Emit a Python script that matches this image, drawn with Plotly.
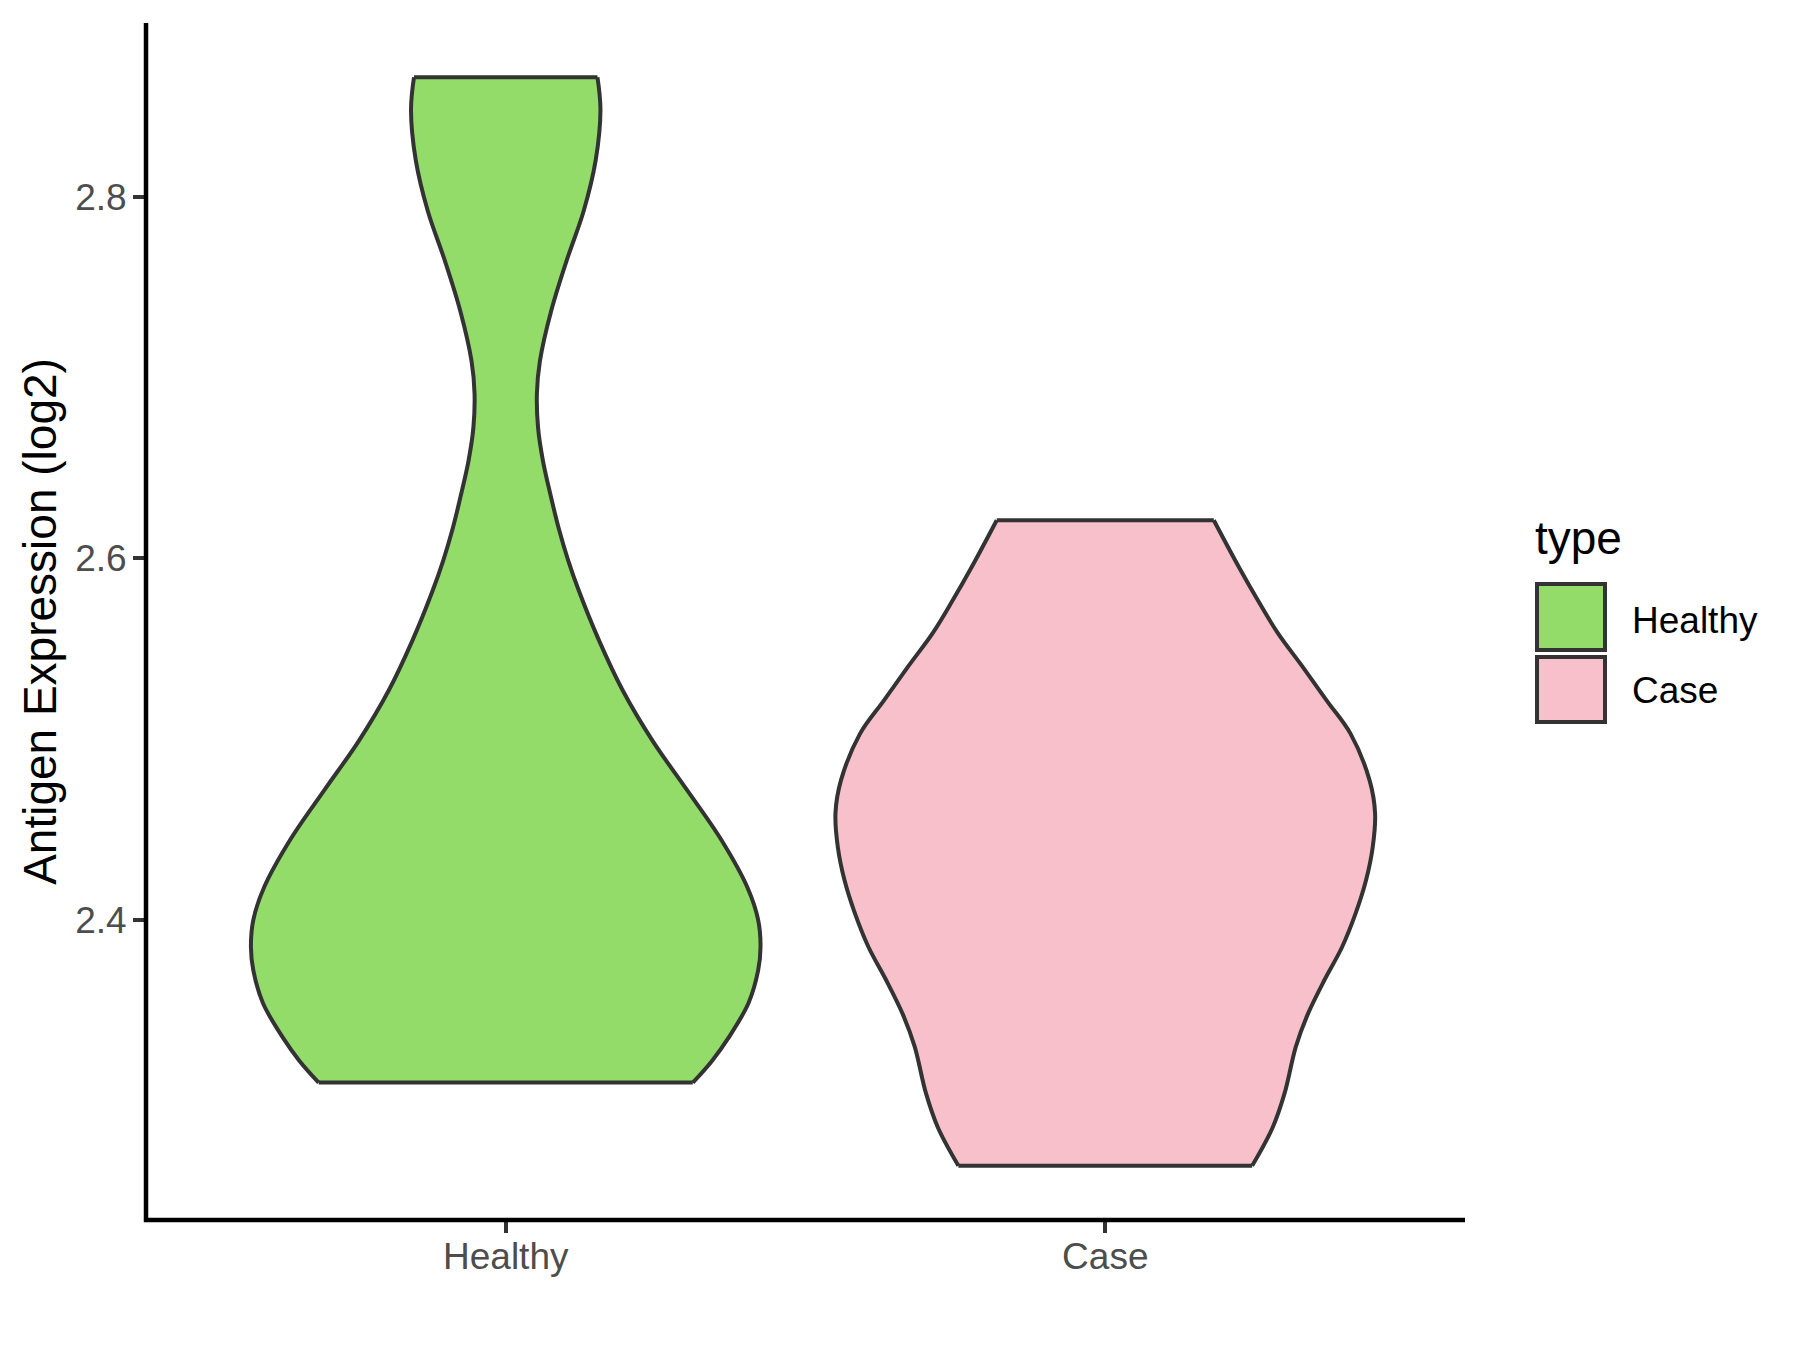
import plotly.graph_objects as go

# ---- data (violin density outlines) ----
categories = ["Healthy", "Case"]
fill_colors = ["#93DC6A", "#F7C0CB"]

healthy_y = [2.310, 2.322, 2.335, 2.354, 2.372, 2.385, 2.400, 2.418, 2.444, 2.472,
             2.499, 2.527, 2.555, 2.582, 2.599, 2.617, 2.636, 2.654, 2.672, 2.691,
             2.709, 2.737, 2.765, 2.792, 2.820, 2.848, 2.866]
healthy_halfwidth = [0.312, 0.344, 0.372, 0.405, 0.421, 0.425, 0.421, 0.403, 0.360, 0.302,
                     0.245, 0.195, 0.155, 0.122, 0.104, 0.088, 0.074, 0.062, 0.054, 0.052,
                     0.057, 0.076, 0.102, 0.130, 0.150, 0.158, 0.153]

case_y = [2.264, 2.285, 2.304, 2.330, 2.348, 2.367, 2.385, 2.404, 2.422, 2.440,
          2.459, 2.477, 2.503, 2.521, 2.540, 2.559, 2.577, 2.595, 2.621]
case_halfwidth = [0.245, 0.279, 0.299, 0.318, 0.338, 0.366, 0.395, 0.418, 0.435, 0.446,
                  0.450, 0.441, 0.409, 0.370, 0.329, 0.287, 0.254, 0.223, 0.181]

y_ticks = [2.4, 2.6, 2.8]
y_range = [2.234, 2.896]

profiles = [(healthy_y, healthy_halfwidth), (case_y, case_halfwidth)]
outline = dict(color="#333333", width=4)

fig = go.Figure()
for i, (ys, hw) in enumerate(profiles):
    left_x = [i - h for h in hw]
    right_x = [i + h for h in hw]
    # left edge (curve)
    fig.add_trace(go.Scatter(
        x=left_x, y=ys, mode="lines",
        line=dict(outline, shape="spline", smoothing=1.0),
        showlegend=False, hoverinfo="skip",
    ))
    # right edge (curve), filled back to the left edge
    fig.add_trace(go.Scatter(
        x=right_x, y=ys, mode="lines", fill="tonextx", fillcolor=fill_colors[i],
        line=dict(outline, shape="spline", smoothing=1.0),
        name=categories[i], showlegend=False, hoverinfo="skip",
    ))
    # flat top and bottom edges of the trimmed violin
    for k in (0, -1):
        fig.add_trace(go.Scatter(
            x=[left_x[k], right_x[k]], y=[ys[k], ys[k]], mode="lines",
            line=outline, showlegend=False, hoverinfo="skip",
        ))

font_family = "Liberation Sans, Arial, sans-serif"

M_L, M_R, M_T, M_B = 138, 343, 15, 138
fig.update_layout(
    width=1800, height=1350,
    margin=dict(l=M_L, r=M_R, t=M_T, b=M_B),
    paper_bgcolor="white", plot_bgcolor="white",
    font=dict(family=font_family),
    xaxis=dict(
        range=[-0.6, 1.6], tickmode="array", tickvals=[0, 1], ticktext=categories,
        showgrid=False, zeroline=False, showline=False,
        ticks="outside", ticklen=12, tickwidth=4, tickcolor="#333333",
        ticklabelstandoff=-8,
        tickfont=dict(size=37, color="#4D4D4D", family=font_family),
    ),
    yaxis=dict(
        range=y_range, tickmode="array", tickvals=y_ticks,
        ticktext=[f"{v:.1f}" for v in y_ticks],
        showgrid=False, zeroline=False, showline=False,
        ticks="outside", ticklen=12, tickwidth=4, tickcolor="#333333",
        ticklabelstandoff=-1,
        tickfont=dict(size=37, color="#4D4D4D", family=font_family),
        title=dict(text="Antigen Expression (log2)", standoff=4,
                   font=dict(size=46, color="black", family=font_family)),
    ),
)

# axis lines centred on the panel edges (ggplot theme_classic style)
fig.add_shape(type="path", xref="paper", yref="paper",
              path="M 0,1 L 0,0 L 1,0",
              line=dict(color="black", width=4.5), layer="above")

# ---- legend drawn to mimic ggplot key boxes (positions in reference pixels) ----
PAGE_OFF = 8
PW = 1800 - M_L - M_R
PH = 1350 - M_T - M_B

def px_x(px):
    return (px - PAGE_OFF - M_L) / PW

def px_y(py):
    return (1350 - M_B - (py - PAGE_OFF)) / PH

fig.add_annotation(x=px_x(1533), y=px_y(538), xref="paper", yref="paper",
                   text="type", showarrow=False, xanchor="left", yanchor="middle",
                   font=dict(size=46, color="black", family=font_family))
key_boxes = [(584, 650), (657, 722)]
label_y = [620, 690]
for i, cat in enumerate(categories):
    top, bot = key_boxes[i]
    fig.add_shape(type="rect", xref="paper", yref="paper",
                  x0=px_x(1537), x1=px_x(1605),
                  y0=px_y(bot), y1=px_y(top),
                  fillcolor=fill_colors[i], line=dict(color="#333333", width=4))
    fig.add_annotation(x=px_x(1630), y=px_y(label_y[i]), xref="paper", yref="paper",
                       text=cat, showarrow=False, xanchor="left", yanchor="middle",
                       font=dict(size=37, color="black", family=font_family))

fig.write_html("out.html")
